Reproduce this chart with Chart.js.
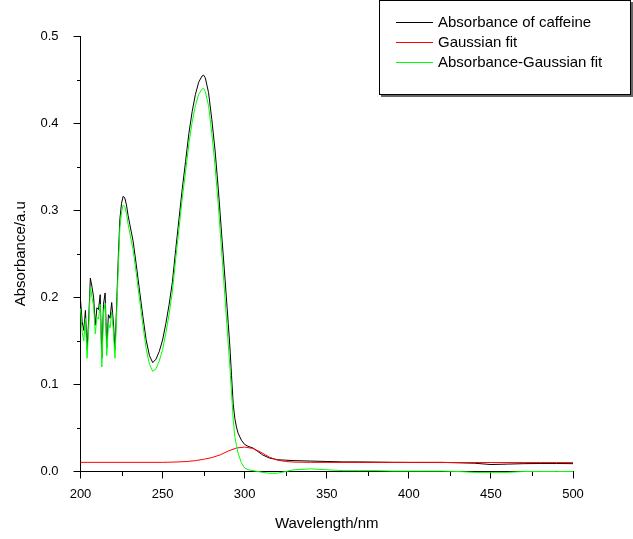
<!DOCTYPE html>
<html>
<head>
<meta charset="utf-8">
<script src="https://cdn.jsdelivr.net/npm/chart.js@4.4.1/dist/chart.umd.min.js"></script>
<style>
  html, body { margin: 0; padding: 0; background: #fff; }
  canvas { display: block; }
</style>
</head>
<body>
<canvas id="spectrum" width="633" height="539"></canvas>
<script>
// Wavelengths (nm) of the measured spectrum
const wavelength = [
    200, 201, 202, 203, 204, 205, 206, 207, 208, 209, 210, 211, 212, 213, 214, 215, 216, 217, 218, 219, 220, 221, 222, 223,
    224, 225, 226, 227, 228, 229, 230,
    232, 234, 236, 238, 240, 242, 244, 246, 248, 250, 252, 254, 256, 258, 260, 262, 264, 266, 268, 270, 272, 274,
    275, 276, 278, 280, 282, 284, 286, 288, 290,
    291, 292, 293, 294, 295, 296, 298, 300, 302, 305, 308, 311, 315, 320, 325, 330,
    340, 350, 360, 370, 380, 390, 400, 410, 420, 430, 440, 450, 460, 470, 480, 490, 500
];

// Absorbance of caffeine
const caffeine = [
    0.197, 0.172, 0.162, 0.185, 0.140, 0.175, 0.222, 0.212, 0.200, 0.168, 0.188, 0.186, 0.203, 0.130, 0.192, 0.205, 0.142, 0.180, 0.176, 0.194, 0.172, 0.140, 0.190, 0.245,
    0.290, 0.308, 0.316, 0.314, 0.306, 0.294, 0.284,
    0.265, 0.237, 0.207, 0.178, 0.151, 0.133, 0.125, 0.129, 0.138, 0.151, 0.170, 0.192, 0.218, 0.255, 0.290, 0.325, 0.356, 0.388, 0.413, 0.433, 0.447, 0.454,
    0.455, 0.452, 0.435, 0.404, 0.368, 0.323, 0.272, 0.222, 0.170,
    0.143, 0.110, 0.078, 0.061, 0.051, 0.044, 0.036, 0.031, 0.029, 0.027, 0.023, 0.019, 0.0155, 0.0135, 0.013, 0.0125,
    0.012, 0.0115, 0.011, 0.011, 0.0108, 0.0106, 0.0105, 0.0105, 0.0105, 0.010, 0.0095, 0.008, 0.0085, 0.009, 0.0092, 0.0092, 0.009
];

// Absorbance minus the Gaussian fit
const residual = [
    0.187, 0.160, 0.150, 0.176, 0.130, 0.165, 0.212, 0.200, 0.190, 0.158, 0.177, 0.175, 0.192, 0.120, 0.182, 0.193, 0.133, 0.170, 0.165, 0.183, 0.162, 0.130, 0.180, 0.234,
    0.280, 0.298, 0.306, 0.304, 0.296, 0.284, 0.274,
    0.255, 0.227, 0.197, 0.168, 0.141, 0.123, 0.115, 0.118, 0.127, 0.140, 0.159, 0.181, 0.207, 0.244, 0.279, 0.314, 0.344, 0.376, 0.401, 0.420, 0.433, 0.439,
    0.440, 0.436, 0.420, 0.388, 0.350, 0.304, 0.252, 0.200, 0.146,
    0.120, 0.090, 0.060, 0.040, 0.030, 0.021, 0.010, 0.004, 0.002, 0.001, 0.000, -0.001, -0.002, -0.002, 0.000, 0.002,
    0.003, 0.002, 0.001, 0.001, 0.001, 0.0005, 0.0005, 0.0005, 0.0005, 0.000, -0.001, -0.001, -0.001, 0.000, 0.000, 0.000, 0.000
];

// Gaussian fit, sampled more coarsely
const fitWavelength = [200, 250, 260, 265, 270, 275, 280, 285, 290, 295, 300, 305, 310, 315, 320, 325, 330, 340, 400, 500];
const gaussianFit = [0.0105, 0.0105, 0.011, 0.0115, 0.0125, 0.014, 0.016, 0.019, 0.0235, 0.027, 0.028, 0.0265, 0.022, 0.0165, 0.013, 0.0115, 0.0108, 0.0105, 0.0103, 0.0102];

const seriesNames = ['Absorbance of caffeine', 'Gaussian fit', 'Absorbance-Gaussian fit'];
const seriesColors = ['#000000', '#ff0000', '#00ff00'];

const xTicksMajor = 50;
const yTicksMajor = 0.1;

function toPoints(xs, ys) {
    return xs.map((x, i) => ({ x: x, y: ys[i] }));
}

function isMajorX(v) { return Math.round(v) % xTicksMajor === 0; }
function isMajorY(v) { return Math.round(v * 100) % Math.round(yTicksMajor * 100) === 0; }

const FONT = "'Liberation Sans', Arial, sans-serif";

// Short minor ticks between the labelled ones
const minorTicks = {
    id: 'minorTicks',
    afterDraw(chart) {
        const ctx = chart.ctx;
        const xs = chart.scales.x, ys = chart.scales.y;
        ctx.save();
        ctx.fillStyle = '#000';
        xs.ticks.forEach(t => {
            if (isMajorX(t.value)) return;
            const px = Math.round(xs.getPixelForValue(t.value));
            ctx.fillRect(px, Math.round(xs.top), 1, 4);
        });
        ys.ticks.forEach(t => {
            if (isMajorY(t.value)) return;
            const py = Math.round(ys.getPixelForValue(t.value));
            ctx.fillRect(Math.round(ys.right) - 4, py, 4, 1);
        });
        ctx.restore();
    }
};

// Boxed legend in the top right corner
const boxLegend = {
    id: 'boxLegend',
    afterDraw(chart) {
        const ctx = chart.ctx;
        const left = 379, top = 0, w = 252, h = 95;
        ctx.save();
        ctx.fillStyle = '#666';
        ctx.fillRect(left + 2, top + h, w, 2);
        ctx.fillRect(left + w, top + 2, 2, h);
        ctx.strokeStyle = '#000';
        ctx.lineWidth = 1;
        ctx.strokeRect(left + 0.5, top + 0.5, w - 1, h - 1);
        ctx.font = '15px ' + FONT;
        ctx.textBaseline = 'middle';
        seriesNames.forEach((name, i) => {
            const y = 22 + i * 20;
            ctx.fillStyle = seriesColors[i];
            ctx.fillRect(396, y, 37, 1);
            ctx.fillStyle = '#000';
            ctx.fillText(name, 438, y + 1);
        });
        ctx.restore();
    }
};

new Chart(document.getElementById('spectrum').getContext('2d'), {
    type: 'line',
    data: {
        datasets: [
            {
                label: seriesNames[0],
                data: toPoints(wavelength, caffeine),
                borderColor: seriesColors[0],
                order: 3
            },
            {
                label: seriesNames[1],
                data: toPoints(fitWavelength, gaussianFit),
                borderColor: seriesColors[1],
                order: 2
            },
            {
                label: seriesNames[2],
                data: toPoints(wavelength, residual),
                borderColor: seriesColors[2],
                order: 1
            }
        ]
    },
    options: {
        responsive: false,
        animation: false,
        clip: 6,
        elements: {
            line: { borderWidth: 1, tension: 0, fill: false },
            point: { radius: 0 }
        },
        layout: { padding: { left: 0, right: 60, top: 36, bottom: 0 } },
        plugins: {
            legend: { display: false },
            tooltip: { enabled: false }
        },
        scales: {
            x: {
                type: 'linear',
                min: 200,
                max: 500,
                afterFit: s => { s.height = 67.5; },
                border: { color: '#000', width: 1 },
                grid: {
                    drawOnChartArea: false,
                    drawTicks: true,
                    tickLength: 7,
                    tickColor: c => isMajorX(c.tick.value) ? '#000' : 'rgba(0,0,0,0)'
                },
                ticks: {
                    stepSize: 25,
                    maxTicksLimit: 40,
                    autoSkip: false,
                    maxRotation: 0,
                    padding: 8,
                    color: '#000',
                    font: { family: FONT, size: 13 },
                    callback: v => isMajorX(v) ? String(v) : ''
                },
                title: {
                    display: true,
                    text: 'Wavelength/nm',
                    color: '#000',
                    font: { family: FONT, size: 15 },
                    padding: { top: 0, bottom: 6 }
                }
            },
            y: {
                min: 0,
                max: 0.5,
                afterFit: s => { s.width = 80.5; },
                border: { color: '#000', width: 1 },
                grid: {
                    drawOnChartArea: false,
                    drawTicks: true,
                    tickLength: 7,
                    tickColor: c => isMajorY(c.tick.value) ? '#000' : 'rgba(0,0,0,0)'
                },
                ticks: {
                    stepSize: 0.05,
                    maxTicksLimit: 40,
                    autoSkip: false,
                    padding: 15,
                    color: '#000',
                    font: { family: FONT, size: 13 },
                    callback: v => isMajorY(v) ? v.toFixed(1) : ''
                },
                title: {
                    display: true,
                    text: 'Absorbance/a.u',
                    color: '#000',
                    font: { family: FONT, size: 15 },
                    padding: { top: 12, bottom: 0 }
                }
            }
        }
    },
    plugins: [minorTicks, boxLegend]
});
</script>
</body>
</html>
